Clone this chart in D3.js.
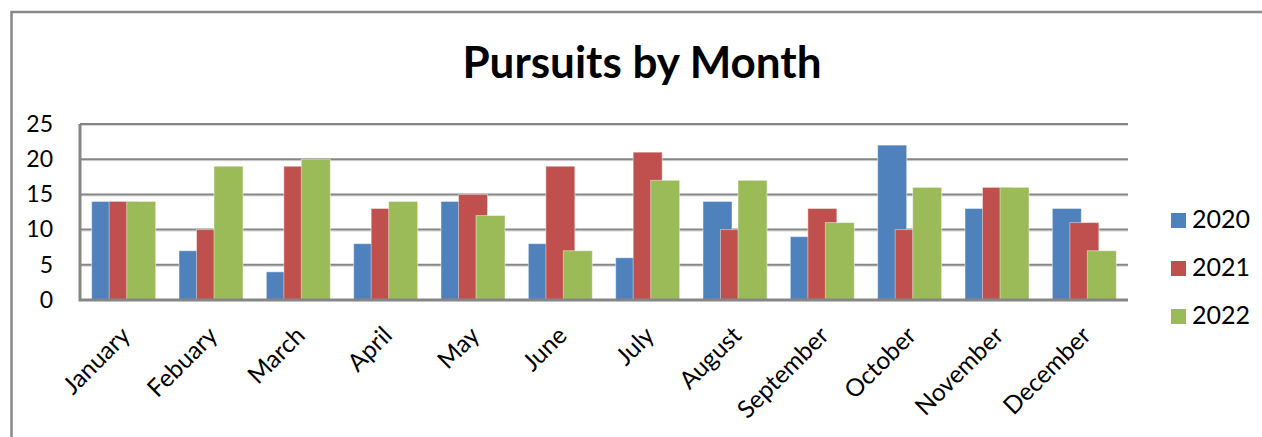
<!DOCTYPE html>
<html>
<head>
<meta charset="utf-8">
<script src="https://cdn.jsdelivr.net/npm/d3@7"></script>
<style>
  html, body { margin: 0; padding: 0; background: #fff; }
  svg { display: block; font-family: Lato, "Open Sans", sans-serif; }
</style>
</head>
<body>
<script>
// chart values
const months = ['January', 'Febuary', 'March', 'April', 'May', 'June',
  'July', 'August', 'September', 'October', 'November', 'December'];
const years = ['2020', '2021', '2022'];
const values2020 = [14, 7, 4, 8, 14, 8, 6, 14, 9, 22, 13, 13];
const values2021 = [14, 10, 19, 13, 15, 19, 21, 10, 13, 10, 16, 11];
const values2022 = [14, 19, 20, 14, 12, 7, 17, 17, 11, 16, 16, 7];
const yTicks = [0, 5, 10, 15, 20, 25];
const colors = ['#4f81bd', '#c0504d', '#9bbb59'];

const width = 1262;
const height = 437;
const plot = { left: 80, right: 1128, top: 124, bottom: 300 };
const barWidth = 29;

const series = years.map((year, k) => ({
  year,
  color: colors[k],
  values: [values2020, values2021, values2022][k],
}));

const svg = d3.select('body').append('svg')
  .attr('width', width)
  .attr('height', height);

svg.append('rect')
  .attr('width', width)
  .attr('height', height)
  .attr('fill', '#fff');

// outer chart frame (only top and left edges are in view)
svg.append('path')
  .attr('d', `M11.5,${height}V12H${width}`)
  .attr('fill', 'none')
  .attr('stroke', '#888')
  .attr('stroke-width', 2.5);

svg.append('text')
  .attr('x', 642)
  .attr('y', 78)
  .attr('text-anchor', 'middle')
  .attr('font-weight', 'bold')
  .attr('font-size', 44)
  .attr('fill', '#000')
  .text('Pursuits by Month');

const x = d3.scaleBand()
  .domain(months)
  .range([plot.left, plot.right]);

const offset = d3.scalePoint()
  .domain(years)
  .range([-17.5, 17.5]);

const y = d3.scaleLinear()
  .domain([0, 25])
  .range([plot.bottom, plot.top]);

// gridlines with the faint light line under each
const grid = svg.append('g');
grid.selectAll('line.shade').data(yTicks.slice(1))
  .join('line')
    .attr('class', 'shade')
    .attr('x1', plot.left)
    .attr('x2', plot.right)
    .attr('y1', d => y(d) + 1.5)
    .attr('y2', d => y(d) + 1.5)
    .attr('stroke', '#d9d9d9')
    .attr('stroke-width', 1);
grid.selectAll('line.major').data(yTicks.slice(1))
  .join('line')
    .attr('class', 'major')
    .attr('x1', plot.left)
    .attr('x2', plot.right)
    .attr('y1', d => y(d))
    .attr('y2', d => y(d))
    .attr('stroke', '#868686')
    .attr('stroke-width', 2);

// bars, drawn series by series so later ones overlap earlier ones
svg.append('g')
  .selectAll('g').data(series)
  .join('g')
    .attr('fill', d => d.color)
  .selectAll('rect').data(d => d.values.map((v, i) => ({ v, month: months[i], year: d.year })))
  .join('rect')
    .attr('x', d => x(d.month) + x.bandwidth() / 2 + offset(d.year) - barWidth / 2)
    .attr('y', d => y(d.v))
    .attr('width', barWidth)
    .attr('height', d => y(0) - y(d.v))
    .attr('stroke', 'rgba(255,255,255,0.45)')
    .attr('stroke-width', 1);

// axis lines
svg.append('path')
  .attr('d', `M${plot.left},${plot.top}V${plot.bottom}H${plot.right}`)
  .attr('fill', 'none')
  .attr('stroke', '#868686')
  .attr('stroke-width', 3);

const yAxis = d3.axisLeft(y)
  .tickValues(yTicks)
  .tickSize(0)
  .tickPadding(27);

svg.append('g')
  .attr('transform', `translate(${plot.left},0)`)
  .call(yAxis)
  .call(g => g.select('.domain').remove())
  .call(g => g.selectAll('text')
    .attr('font-family', 'Lato, "Open Sans", sans-serif')
    .attr('font-size', 23)
    .attr('fill', '#000'));

svg.append('g')
  .selectAll('text').data(months)
  .join('text')
    .attr('transform', d => `translate(${x(d) + x.bandwidth() / 2 + 8},337) rotate(-45)`)
    .attr('text-anchor', 'end')
    .attr('font-size', 24.5)
    .attr('fill', '#000')
    .text(d => d);

// legend
const legend = svg.append('g')
  .selectAll('g').data(series)
  .join('g')
    .attr('transform', (d, k) => `translate(1171,${213 + k * 48})`);
legend.append('rect')
  .attr('width', 15)
  .attr('height', 15)
  .attr('fill', d => d.color);
legend.append('text')
  .attr('x', 21)
  .attr('y', 15)
  .attr('font-size', 25)
  .attr('fill', '#000')
  .text(d => d.year);
</script>
</body>
</html>
